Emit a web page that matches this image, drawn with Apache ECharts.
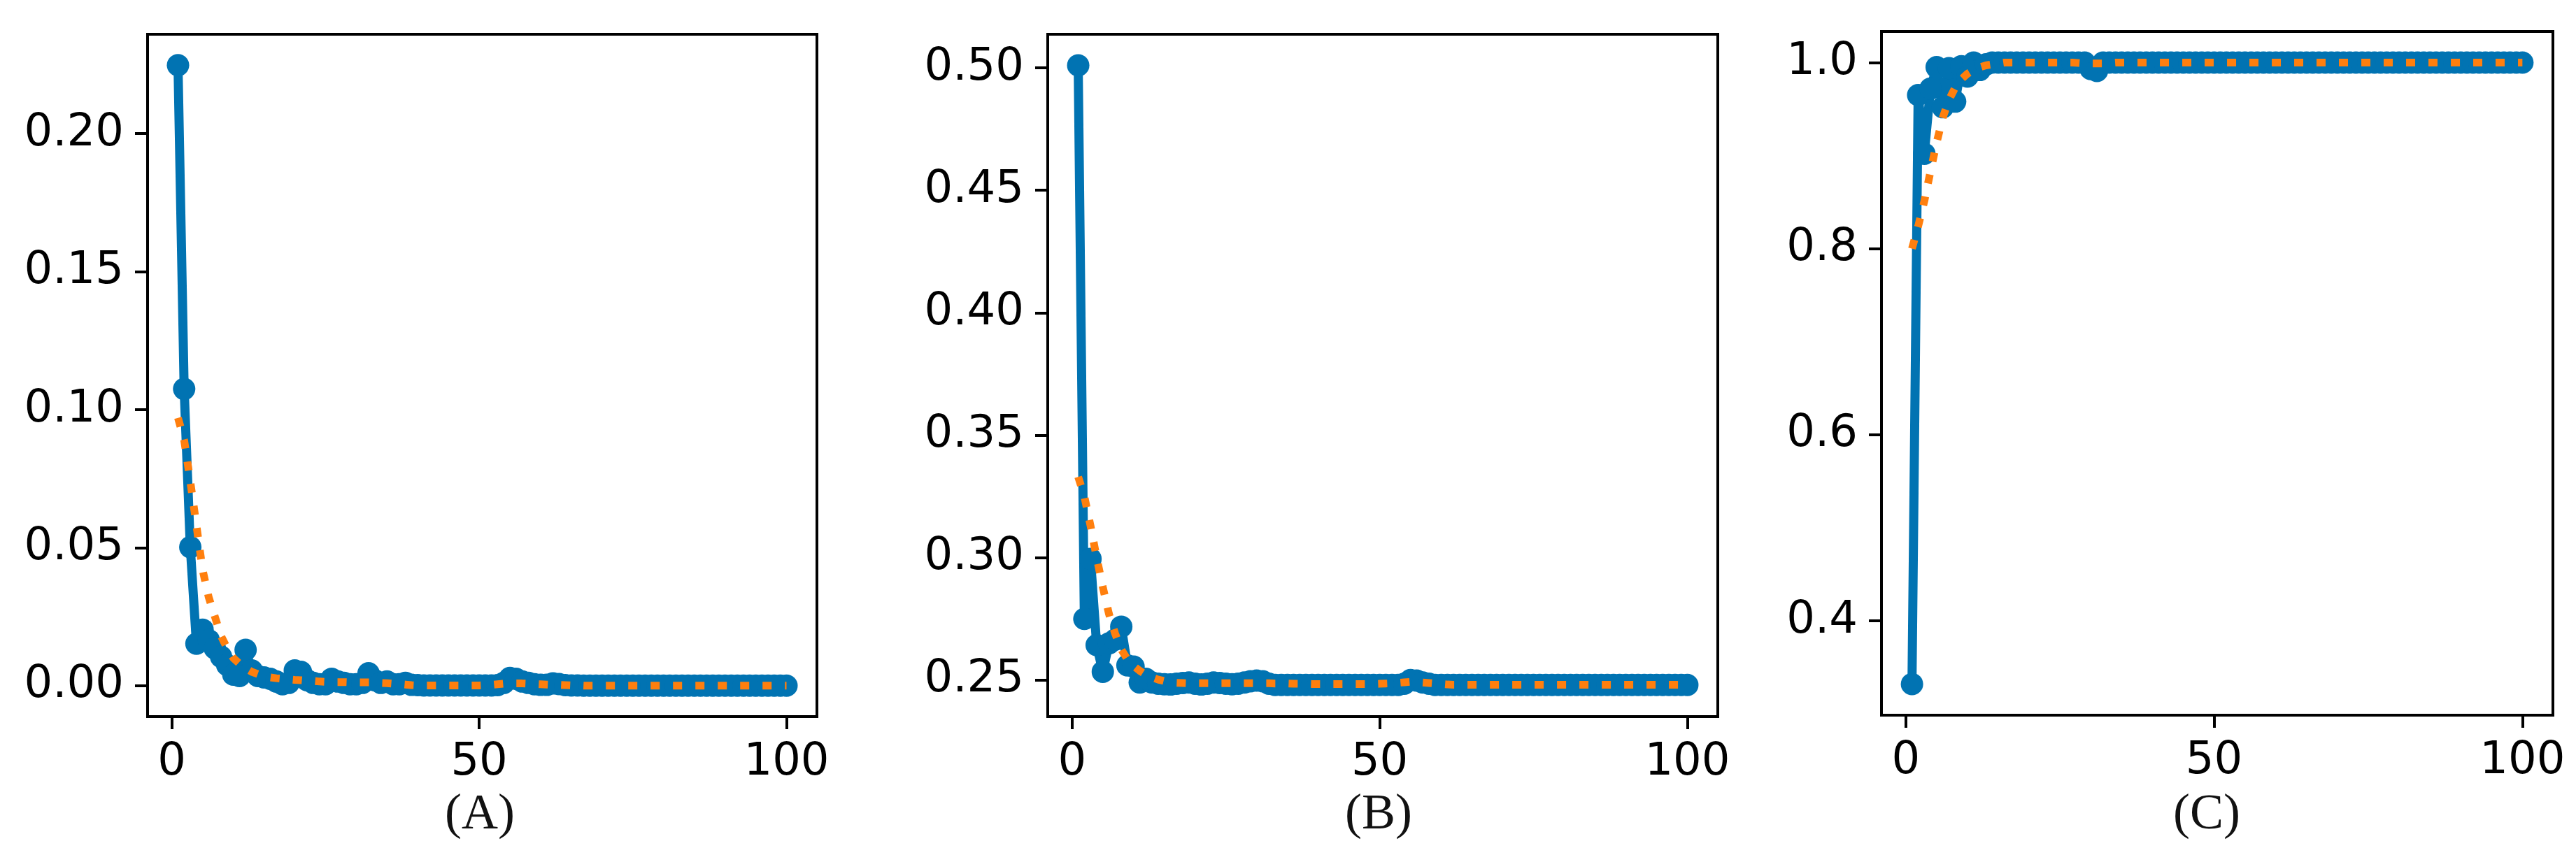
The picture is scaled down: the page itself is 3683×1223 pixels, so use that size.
<!DOCTYPE html>
<html>
<head>
<meta charset="utf-8">
<script src="https://cdn.jsdelivr.net/npm/echarts@6/dist/echarts.min.js"></script>
<style>
    html, body { margin: 0; padding: 0; background: #fff; }
    #chart { width: 3683px; height: 1223px; }
</style>
</head>
<body>
<div id="chart"></div>
<script>
// epochs 1..100 on the x axis
var epochs = [];
for (var i = 1; i <= 100; i++) epochs.push(i);

var xTicks = [0, 50, 100];
var yTicksA = [0, 0.05, 0.10, 0.15, 0.20];
var yTicksB = [0.25, 0.30, 0.35, 0.40, 0.45, 0.50];
var yTicksC = [0.4, 0.6, 0.8, 1.0];
var panelNames = ['(A)', '(B)', '(C)'];

// panel A
var lossA = [
    0.2248, 0.1075, 0.0502, 0.0152, 0.0203, 0.0165, 0.0135, 0.0105, 0.0075, 0.0040,
    0.0035, 0.0130, 0.0055, 0.0035, 0.0030, 0.0025, 0.0015, 0.0005, 0.0010, 0.0055,
    0.0050, 0.0020, 0.0010, 0.0005, 0.0005, 0.0025, 0.0015, 0.0010, 0.0005, 0.0005,
    0.0010, 0.0045, 0.0020, 0.0010, 0.0015, 0.0005, 0.0005, 0.0010, 0.0003, 0.0002,
    0.0001, 0.0001, 0.0001, 0.0001, 0.0001, 0.0001, 0.0001, 0.0001, 0.0001, 0.0001,
    0.0001, 0.0001, 0.0002, 0.0010, 0.0028, 0.0025, 0.0015, 0.0010, 0.0005, 0.0003,
    0.0003, 0.0008, 0.0006, 0.0002, 0.0001, 0.0001, 0, 0, 0, 0,
    0, 0, 0, 0, 0, 0, 0, 0, 0, 0,
    0, 0, 0, 0, 0, 0, 0, 0, 0, 0,
    0, 0, 0, 0, 0, 0, 0, 0, 0, 0
];
var trendA = [
    0.0970, 0.0890, 0.0740, 0.0580, 0.0420, 0.0320, 0.0250, 0.0180, 0.0135, 0.0100,
    0.0080, 0.0063, 0.0050, 0.0042, 0.0035, 0.0030, 0.0027, 0.0025, 0.0023, 0.0021,
    0.0020, 0.0018, 0.0017, 0.0015, 0.0014, 0.0013, 0.0013, 0.0013, 0.0012, 0.0012,
    0.0012, 0.0012, 0.0012, 0.0010, 0.0009, 0.0007, 0.0006, 0.0004, 0.0002, 0.0001,
    0.0001, 0.0001, 0.0001, 0.0001, 0.0001, 0.0001, 0.0001, 0.0001, 0.0001, 0.0001,
    0.0002, 0.0003, 0.0005, 0.0007, 0.0008, 0.0008, 0.0008, 0.0007, 0.0006, 0.0005,
    0.0004, 0.0003, 0.0003, 0.0002, 0.0001, 0.0001, 0, 0, 0, 0,
    0, 0, 0, 0, 0, 0, 0, 0, 0, 0,
    0, 0, 0, 0, 0, 0, 0, 0, 0, 0,
    0, 0, 0, 0, 0, 0, 0, 0, 0, 0
];

// panel B
var lossB = [
    0.5010, 0.2750, 0.2995, 0.2643, 0.2534, 0.2650, 0.2665, 0.2718, 0.2560, 0.2555,
    0.2490, 0.2505, 0.2490, 0.2485, 0.2483, 0.2482, 0.2485, 0.2488, 0.2490, 0.2485,
    0.2482, 0.2485, 0.2490, 0.2488, 0.2485, 0.2483, 0.2485, 0.2490, 0.2495, 0.2498,
    0.2495, 0.2485, 0.2480, 0.2480, 0.2480, 0.2480, 0.2480, 0.2480, 0.2480, 0.2480,
    0.2480, 0.2480, 0.2480, 0.2480, 0.2480, 0.2480, 0.2480, 0.2480, 0.2480, 0.2480,
    0.2480, 0.2480, 0.2480, 0.2485, 0.2500, 0.2498, 0.2490, 0.2485, 0.2480, 0.2480,
    0.2480, 0.2480, 0.2480, 0.2480, 0.2480, 0.2480, 0.2480, 0.2480, 0.2480, 0.2480,
    0.2480, 0.2480, 0.2480, 0.2480, 0.2480, 0.2480, 0.2480, 0.2480, 0.2480, 0.2480,
    0.2480, 0.2480, 0.2480, 0.2480, 0.2480, 0.2480, 0.2480, 0.2480, 0.2480, 0.2480,
    0.2480, 0.2480, 0.2480, 0.2480, 0.2480, 0.2480, 0.2480, 0.2480, 0.2480, 0.2480
];
var trendB = [
    0.3330, 0.3250, 0.3130, 0.3000, 0.2880, 0.2770, 0.2690, 0.2625, 0.2585, 0.2558,
    0.2538, 0.2522, 0.2511, 0.2502, 0.2496, 0.2491, 0.2489, 0.2488, 0.2487, 0.2487,
    0.2487, 0.2487, 0.2487, 0.2487, 0.2487, 0.2487, 0.2487, 0.2487, 0.2487, 0.2487,
    0.2487, 0.2487, 0.2486, 0.2486, 0.2486, 0.2485, 0.2485, 0.2485, 0.2484, 0.2484,
    0.2484, 0.2484, 0.2484, 0.2484, 0.2484, 0.2484, 0.2484, 0.2484, 0.2484, 0.2485,
    0.2486, 0.2487, 0.2489, 0.2491, 0.2493, 0.2492, 0.2490, 0.2488, 0.2486, 0.2484,
    0.2482, 0.2481, 0.2481, 0.2481, 0.2481, 0.2481, 0.2481, 0.2481, 0.2481, 0.2481,
    0.2481, 0.2481, 0.2481, 0.2481, 0.2481, 0.2481, 0.2481, 0.2481, 0.2481, 0.2481,
    0.2481, 0.2481, 0.2481, 0.2481, 0.2481, 0.2481, 0.2481, 0.2481, 0.2481, 0.2481,
    0.2481, 0.2481, 0.2481, 0.2481, 0.2481, 0.2481, 0.2481, 0.2481, 0.2481, 0.2481
];

// panel C
var accC = [
    0.332, 0.965, 0.902, 0.972, 0.995, 0.952, 0.994, 0.958, 0.996, 0.985,
    1.000, 0.992, 0.998, 1.000, 1.000, 1.000, 1.000, 1.000, 1.000, 1.000,
    1.000, 1.000, 1.000, 1.000, 1.000, 1.000, 1.000, 1.000, 1.000, 0.993,
    0.991, 1.000, 1.000, 1.000, 1.000, 1.000, 1.000, 1.000, 1.000, 1.000,
    1.000, 1.000, 1.000, 1.000, 1.000, 1.000, 1.000, 1.000, 1.000, 1.000,
    1.000, 1.000, 1.000, 1.000, 1.000, 1.000, 1.000, 1.000, 1.000, 1.000,
    1.000, 1.000, 1.000, 1.000, 1.000, 1.000, 1.000, 1.000, 1.000, 1.000,
    1.000, 1.000, 1.000, 1.000, 1.000, 1.000, 1.000, 1.000, 1.000, 1.000,
    1.000, 1.000, 1.000, 1.000, 1.000, 1.000, 1.000, 1.000, 1.000, 1.000,
    1.000, 1.000, 1.000, 1.000, 1.000, 1.000, 1.000, 1.000, 1.000, 1.000
];
var trendC = [
    0.800, 0.824, 0.851, 0.883, 0.914, 0.941, 0.960, 0.973, 0.982, 0.988,
    0.992, 0.995, 0.997, 0.998, 0.999, 1.000, 1.000, 1.000, 1.000, 1.000,
    1.000, 1.000, 1.000, 1.000, 1.000, 1.000, 1.000, 0.9995, 0.999, 0.999,
    0.999, 0.999, 0.9995, 1.000, 1.000, 1.000, 1.000, 1.000, 1.000, 1.000,
    1.000, 1.000, 1.000, 1.000, 1.000, 1.000, 1.000, 1.000, 1.000, 1.000,
    1.000, 1.000, 1.000, 1.000, 1.000, 1.000, 1.000, 1.000, 1.000, 1.000,
    1.000, 1.000, 1.000, 1.000, 1.000, 1.000, 1.000, 1.000, 1.000, 1.000,
    1.000, 1.000, 1.000, 1.000, 1.000, 1.000, 1.000, 1.000, 1.000, 1.000,
    1.000, 1.000, 1.000, 1.000, 1.000, 1.000, 1.000, 1.000, 1.000, 1.000,
    1.000, 1.000, 1.000, 1.000, 1.000, 1.000, 1.000, 1.000, 1.000, 1.000
];

var BLUE = '#0173b2';
var ORANGE = '#ff7f0e';
var FONT = 'DejaVu Sans';

function pairs(ys) {
    return epochs.map(function (x, i) { return [x, ys[i]]; });
}

function xAxisFor(idx) {
    return {
        type: 'value', gridIndex: idx,
        min: -3.95, max: 104.95,
        splitLine: { show: false },
        axisLine: { show: true, onZero: false, lineStyle: { color: '#000', width: 4 } },
        axisTick: { show: true, length: 18, customValues: xTicks, lineStyle: { color: '#000', width: 4 } },
        axisLabel: { customValues: xTicks, margin: 34, fontSize: 64, color: '#000', fontFamily: FONT }
    };
}

function yAxisFor(idx, min, max, ticks, digits) {
    return {
        type: 'value', gridIndex: idx,
        min: min, max: max,
        splitLine: { show: false },
        axisLine: { show: true, onZero: false, lineStyle: { color: '#000', width: 4 } },
        axisTick: { show: true, length: 18, customValues: ticks, lineStyle: { color: '#000', width: 4 } },
        axisLabel: {
            customValues: ticks, margin: 34, fontSize: 64, color: '#000', fontFamily: FONT,
            formatter: function (v) { return v.toFixed(digits); }
        }
    };
}

function lineSeries(idx, ys) {
    return {
        type: 'line', xAxisIndex: idx, yAxisIndex: idx,
        data: pairs(ys),
        symbol: 'circle', symbolSize: 32, showSymbol: true, showAllSymbol: true,
        itemStyle: { color: BLUE },
        lineStyle: { color: BLUE, width: 13 },
        z: 2
    };
}

function trendSeries(idx, ys) {
    return {
        type: 'line', xAxisIndex: idx, yAxisIndex: idx,
        data: pairs(ys),
        symbol: 'none',
        lineStyle: { color: ORANGE, width: 11, type: [13, 19] },
        z: 3
    };
}

var grids = [
    { left: 211, top: 49, width: 957, height: 976 },
    { left: 1498, top: 49, width: 958, height: 976 },
    { left: 2690, top: 45, width: 960, height: 978 }
];
grids.forEach(function (g) {
    g.show = true;
    g.borderColor = '#000';
    g.borderWidth = 4;
    g.backgroundColor = 'transparent';
});

var labelX = [686, 1971, 3155];

var myChart = echarts.init(document.getElementById('chart'));
myChart.setOption({
    animation: false,
    backgroundColor: '#fff',
    grid: grids,
    xAxis: [xAxisFor(0), xAxisFor(1), xAxisFor(2)],
    yAxis: [
        yAxisFor(0, -0.0112, 0.2360, yTicksA, 2),
        yAxisFor(1, 0.2351, 0.5137, yTicksB, 2),
        yAxisFor(2, 0.2986, 1.0334, yTicksC, 1)
    ],
    series: [
        lineSeries(0, lossA), trendSeries(0, trendA),
        lineSeries(1, lossB), trendSeries(1, trendB),
        lineSeries(2, accC), trendSeries(2, trendC)
    ],
    graphic: panelNames.map(function (name, i) {
        return {
            type: 'text', x: labelX[i], y: 1166,
            style: {
                text: name, fill: '#111', font: '72px "Liberation Serif"',
                textAlign: 'center', textVerticalAlign: 'middle'
            }
        };
    })
});
</script>
</body>
</html>
